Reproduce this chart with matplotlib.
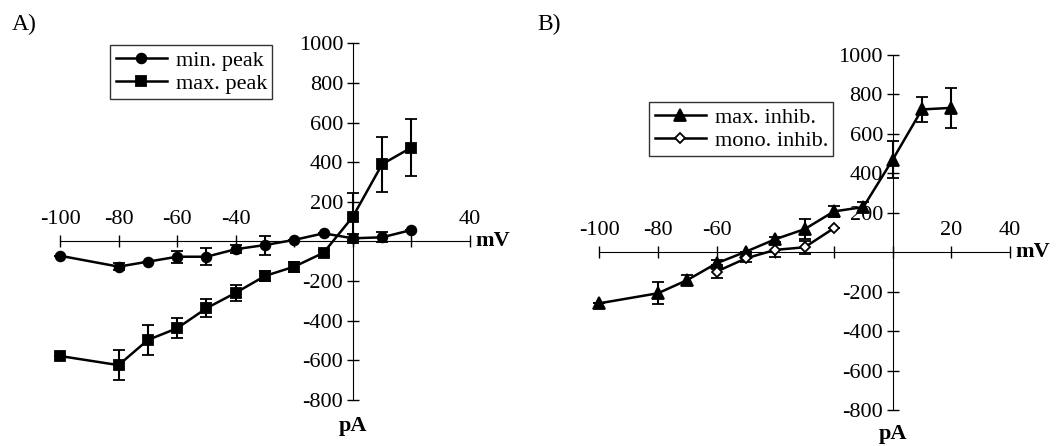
import matplotlib
matplotlib.use("Agg")
import matplotlib.pyplot as plt
from matplotlib.lines import Line2D

plt.rcParams["font.family"] = ["Liberation Serif", "DejaVu Serif"]
plt.rcParams["axes.unicode_minus"] = False

# Panel A
volt_a = [-100, -80, -70, -60, -50, -40, -30, -20, -10, 0, 10, 20]
min_peak = [-72, -127, -102, -77, -77, -39, -18, 8, 41, 16, 21, 58]
min_peak_err = [0, 17, 0, 30, 42, 20, 48, 0, 0, 23, 25, 0]
max_peak = [-578, -624, -497, -438, -337, -259, -174, -127, -57, 125, 390, 474]
max_peak_err = [0, 74, 76, 50, 45, 39, 25, 25, 15, 120, 139, 145]

# Panel B
volt_b = [-100, -80, -70, -60, -50, -40, -30, -20, -10, 0, 10, 20]
max_inhib = [-259, -208, -141, -56, 3, 66, 117, 207, 229, 469, 724, 732]
max_inhib_err = [0, 55, 25, 17, 0, 12, 50, 28, 25, 93, 65, 103]
volt_mono = [-60, -50, -40, -30, -20]
mono_inhib = [-98, -31, 12, 25, 122]
mono_inhib_err = [34, 20, 34, 34, 0]

y_ticks = [1000, 800, 600, 400, 200, -200, -400, -600, -800]
x_ticks = [-100, -80, -60, -40, -20, 0, 20, 40]
x_labels_a = ["-100", "-80", "-60", "-40", "", "", "", "40"]
x_labels_b = ["-100", "-80", "-60", "", "", "", "20", "40"]

W, H = 1058, 446
fig = plt.figure(figsize=(W / 100, H / 100), dpi=100)


def make_axes(x0, x1, y_top, y_bot, pa_offset):
    ax = fig.add_axes([x0 / W, (H - y_bot) / H, (x1 - x0) / W, (y_bot - y_top) / H])
    ax.set_xlim(-100, 40)
    ax.set_ylim(-800, 1000)
    ax.patch.set_alpha(0)
    for side in ("right", "bottom"):
        ax.spines[side].set_visible(False)
    ax.spines["left"].set_position(("data", 0))
    ax.spines["top"].set_position(("data", 0))
    ax.xaxis.tick_top()
    ax.set_yticks(y_ticks)
    ax.set_yticklabels([str(v) for v in y_ticks])
    ax.tick_params(axis="both", direction="inout", length=8, width=1.0,
                   labelsize=16, pad=3)
    ax.tick_params(axis="x", pad=5)
    ax.annotate("mV", xy=(40, 0), xytext=(4, 0), textcoords="offset points",
                fontsize=16, fontweight="bold", ha="left", va="center",
                annotation_clip=False)
    ax.annotate("pA", xy=(0, -800), xytext=(0, pa_offset), textcoords="offset points",
                fontsize=16, fontweight="bold", ha="center", va="center",
                annotation_clip=False)
    return ax


def series(ax, x, y, err, marker, face, ms):
    ax.errorbar(x, y, yerr=err, color="black", marker=marker, markersize=ms,
                markerfacecolor=face, markeredgecolor="black", markeredgewidth=1.3,
                linewidth=1.8, elinewidth=1.5, capsize=4, capthick=1.5,
                clip_on=False, zorder=3)


def add_legend(ax, entries, x_px, y_px):
    handles = [Line2D([], [], color="black", linewidth=1.8, marker=m, markersize=ms,
                      markerfacecolor=f, markeredgecolor="black", markeredgewidth=1.3)
               for m, f, ms, _ in entries]
    labels = [lab for _, _, _, lab in entries]
    leg = ax.legend(handles, labels, loc="upper left",
                    bbox_to_anchor=(x_px / W, 1 - y_px / H),
                    bbox_transform=fig.transFigure, fontsize=16, frameon=True,
                    fancybox=False, borderpad=0.25, labelspacing=0.1,
                    handlelength=2.3, handletextpad=0.4, borderaxespad=0)
    leg.get_frame().set_edgecolor("black")
    leg.get_frame().set_linewidth(1.0)


# A
ax_a = make_axes(60, 470, 43.3, 400, -19)
ax_a.set_xticks(x_ticks)
ax_a.set_xticklabels(x_labels_a)
series(ax_a, volt_a, min_peak, min_peak_err, "o", "black", 7)
series(ax_a, volt_a, max_peak, max_peak_err, "s", "black", 7.5)
add_legend(ax_a, [("o", "black", 7, "min. peak"), ("s", "black", 7.5, "max. peak")],
           110, 45)
fig.text(12 / W, 1 - 24 / H, "A)", fontsize=17, ha="left", va="center")

# B
ax_b = make_axes(599.3, 1010, 55, 410, -17)
ax_b.set_xticks(x_ticks)
ax_b.set_xticklabels(x_labels_b)
series(ax_b, volt_b, max_inhib, max_inhib_err, "^", "black", 8.5)
series(ax_b, volt_mono, mono_inhib, mono_inhib_err, "D", "white", 5.5)
add_legend(ax_b, [("^", "black", 8.5, "max. inhib."), ("D", "white", 5.5, "mono. inhib.")],
           649, 102)
fig.text(537 / W, 1 - 24 / H, "B)", fontsize=17, ha="left", va="center")

fig.savefig("out.png", dpi=100)
